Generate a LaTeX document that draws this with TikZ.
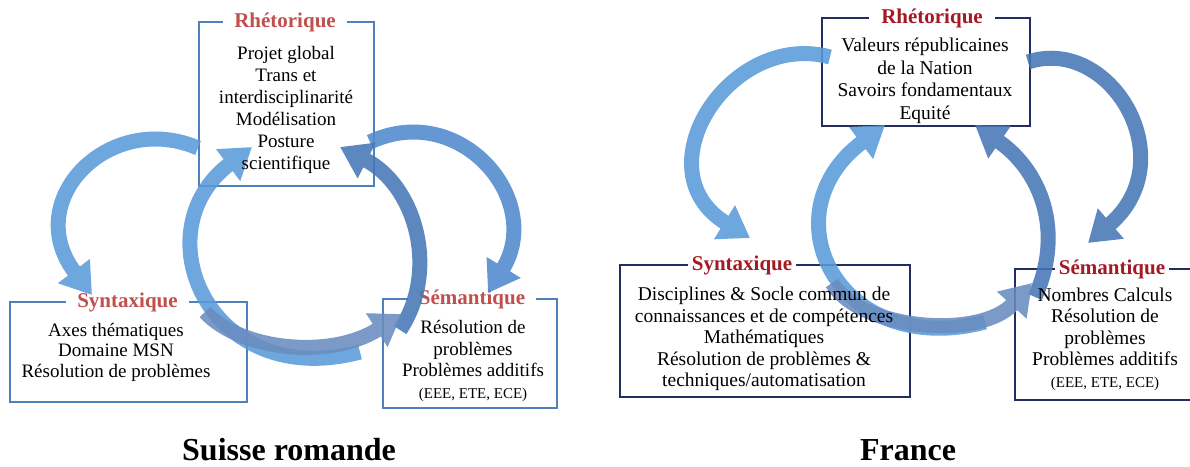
\documentclass[tikz,border=0pt]{standalone}
\usepackage{fontspec}
\setmainfont{Liberation Serif}
\usetikzlibrary{arrows.meta}
\definecolor{boxL}{RGB}{79,129,189}
\definecolor{boxR}{RGB}{35,45,95}
\definecolor{redL}{RGB}{192,80,77}
\definecolor{redR}{RGB}{165,25,35}
\definecolor{arrLight}{RGB}{90,155,218}
\definecolor{arrMid}{RGB}{80,138,205}
\definecolor{arrDark}{RGB}{70,120,182}
\definecolor{arrGray}{RGB}{105,140,192}
\newcommand{\smalltxt}{\fontsize{15}{17}\selectfont}
\begin{document}
\begin{tikzpicture}[x=1pt,y=-1pt,
  boxl/.style={draw=boxL,line width=1.2pt},
  boxr/.style={draw=boxR,line width=1.8pt},
  ttll/.style={fill=white,text=redL,inner xsep=11pt,inner ysep=1pt,font=\fontsize{21}{24}\selectfont\bfseries},
  ttlr/.style={fill=white,text=redR,inner xsep=4pt,inner ysep=1pt,font=\fontsize{21}{24}\selectfont\bfseries},
  txt/.style={align=center,inner sep=0pt,font=\fontsize{19}{22}\selectfont},
  txtr/.style={align=center,inner sep=0pt,font=\fontsize{19.5}{21.5}\selectfont},
  arr/.style={line width=15pt,line cap=butt,-{Triangle[width=38pt,length=30pt]}},
  grp/.style={transparency group,opacity=0.88},
  big/.style={font=\fontsize{32}{36}\selectfont\bfseries,inner sep=0pt}]
\useasboundingbox (0,0) rectangle (1190,466);
% ---------------- Suisse romande ----------------
\node[boxl,minimum width=175pt,minimum height=164pt] (rhL) at (286.5,104) {};
\node[boxl,minimum width=237pt,minimum height=100pt] (syL) at (128.5,352) {};
\node[boxl,minimum width=174pt,minimum height=109pt] (seL) at (470,353.5) {};
\node[ttll] (rhLt) at (285,22) {Rhétorique};
\node[ttll] (syLt) at (127.5,302) {Syntaxique};
\node[ttll] (seLt) at (472,299) {Sémantique};
% ---------------- France ----------------
\node[boxr,minimum width=208pt,minimum height=108pt] (rhR) at (926,72) {};
\node[boxr,minimum width=290pt,minimum height=132pt] (syR) at (765,331) {};
\node[boxr,minimum width=181pt,minimum height=131pt] (seR) at (1105.5,334.5) {};
\node[ttlr,inner xsep=12pt] (rhRt) at (932,18) {Rhétorique};
\node[ttlr] (syRt) at (742,265) {Syntaxique};
\node[ttlr] (seRt) at (1112,269) {Sémantique};
% ---------------- arrow end points ----------------
\coordinate (L1s) at (198,148); \coordinate (L1e) at (92,295);
\coordinate (L2s) at (370,142); \coordinate (L2e) at (488,293);
\coordinate (L3s) at (205,312); \coordinate (L3e) at (402,314);
\coordinate (L4s) at (360,352); \coordinate (L4e) at (252,147);
\coordinate (L5s) at (400,330); \coordinate (L5e) at (340,147);
\coordinate (R1s) at (830,57);  \coordinate (R1e) at (750,238);
\coordinate (R2s) at (1028,62); \coordinate (R2e) at (1088,243);
\coordinate (R3s) at (832,283); \coordinate (R3e) at (1032,283);
\coordinate (R4s) at (985,322); \coordinate (R4e) at (885,125);
\coordinate (R5s) at (1035,297); \coordinate (R5e) at (975,125);
% ---------------- arrows ----------------
\begin{scope}[grp]\draw[arr,draw=arrLight] (L1s) .. controls (110,110) and (20,200) .. (L1e);\end{scope}
\begin{scope}[grp]\draw[arr,draw=arrMid] (L2s) .. controls (460,100) and (545,200) .. (L2e);\end{scope}
\begin{scope}[grp]\draw[arr,draw=arrLight] (L4s) .. controls (210,392) and (140,232) .. (L4e);\end{scope}
\begin{scope}[grp]\draw[arr,draw=arrDark] (L5s) .. controls (440,270) and (415,185) .. (L5e);\end{scope}
\begin{scope}[grp]\draw[arr,draw=arrGray] (L3s) .. controls (240,350) and (330,360) .. (L3e);\end{scope}
\begin{scope}[grp]\draw[arr,draw=arrLight] (R1s) .. controls (730,30) and (640,170) .. (R1e);\end{scope}
\begin{scope}[grp]\draw[arr,draw=arrDark] (R2s) .. controls (1110,35) and (1185,160) .. (R2e);\end{scope}
\begin{scope}[grp]\draw[arr,draw=arrLight] (R4s) .. controls (840,360) and (765,215) .. (R4e);\end{scope}
\begin{scope}[grp]\draw[arr,draw=arrDark] (R5s) .. controls (1065,230) and (1040,170) .. (R5e);\end{scope}
\begin{scope}[grp]\draw[arr,draw=arrGray] (R3s) .. controls (860,330) and (980,340) .. (R3e);\end{scope}
% ---------------- texts ----------------
\node[txt] (rhLx) at (286,110) {Projet global\\Trans et\\interdisciplinarité\\Modélisation\\Posture\\scientifique};
\node[txt,font=\fontsize{19}{20.5}\selectfont] (syLx) at (116,352) {Axes thématiques\\Domaine MSN\\Résolution de problèmes};
\node[txt,font=\fontsize{19}{21.5}\selectfont] (seLx) at (473,361) {Résolution de\\problèmes\\Problèmes additifs\\{\smalltxt (EEE, ETE, ECE)}};
\node[txtr,font=\fontsize{19.5}{22.5}\selectfont] (rhRx) at (925,81) {Valeurs républicaines\\de la Nation\\Savoirs fondamentaux\\Equité};
\node[txtr] (syRx) at (764,339) {Disciplines \& Socle commun de\\connaissances et de compétences\\Mathématiques\\Résolution de problèmes \&\\techniques/automatisation};
\node[txtr] (seRx) at (1105,339) {Nombres Calculs\\Résolution de\\problèmes\\Problèmes additifs\\{\smalltxt (EEE, ETE, ECE)}};
\node[big] (capL) at (289,450) {Suisse romande};
\node[big] (capR) at (908,450) {France};
\end{tikzpicture}
\end{document}
